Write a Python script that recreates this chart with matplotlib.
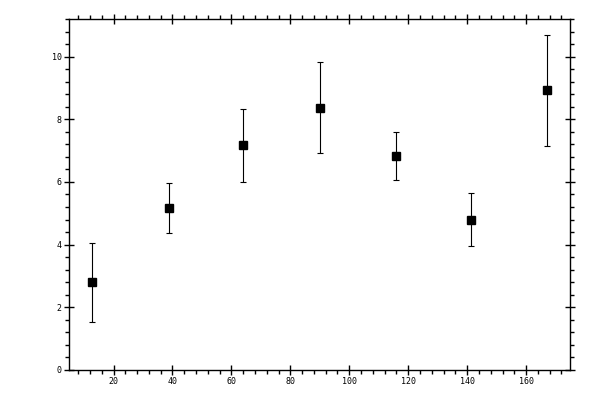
import matplotlib
matplotlib.use("Agg")
import matplotlib.pyplot as plt
from matplotlib.ticker import MultipleLocator

# values
x_vals = [12.86, 38.8, 64.1, 89.9, 115.7, 141.2, 167.0]
y_vals = [2.79, 5.16, 7.17, 8.38, 6.82, 4.80, 8.93]
y_err = [1.26, 0.80, 1.17, 1.47, 0.77, 0.86, 1.78]

plt.rcParams["font.family"] = ["DejaVu Sans Mono", "DejaVu Sans"]

fig = plt.figure(figsize=(6, 4), dpi=100)
ax = fig.add_axes([0.1155, 0.0758, 0.835, 0.876])

ax.errorbar(
    x_vals,
    y_vals,
    yerr=y_err,
    fmt="s",
    color="black",
    markersize=5.5,
    elinewidth=0.8,
    capsize=2.4,
    capthick=0.8,
)

ax.set_xlim(5, 175)
ax.set_ylim(0, 11.2)
ax.xaxis.set_major_locator(MultipleLocator(20))
ax.xaxis.set_minor_locator(MultipleLocator(4))
ax.yaxis.set_major_locator(MultipleLocator(2))
ax.yaxis.set_minor_locator(MultipleLocator(0.4))

for side in ax.spines.values():
    side.set_linewidth(1.0)

ax.tick_params(which="major", direction="inout", length=7, width=1.0,
               top=True, right=True, labelsize=6)
ax.tick_params(which="minor", direction="out", length=3, width=1.0,
               top=True, right=True)
ax.tick_params(axis="x", which="major", pad=2)
ax.tick_params(axis="y", which="major", pad=2)

xticks = [t for t in ax.get_xticks() if 5 <= t <= 175]
ax.set_xticks(xticks)
ax.set_xticklabels([f"{int(t)}" if t > 0 else "" for t in xticks])

fig.savefig("out.png", dpi=100)
